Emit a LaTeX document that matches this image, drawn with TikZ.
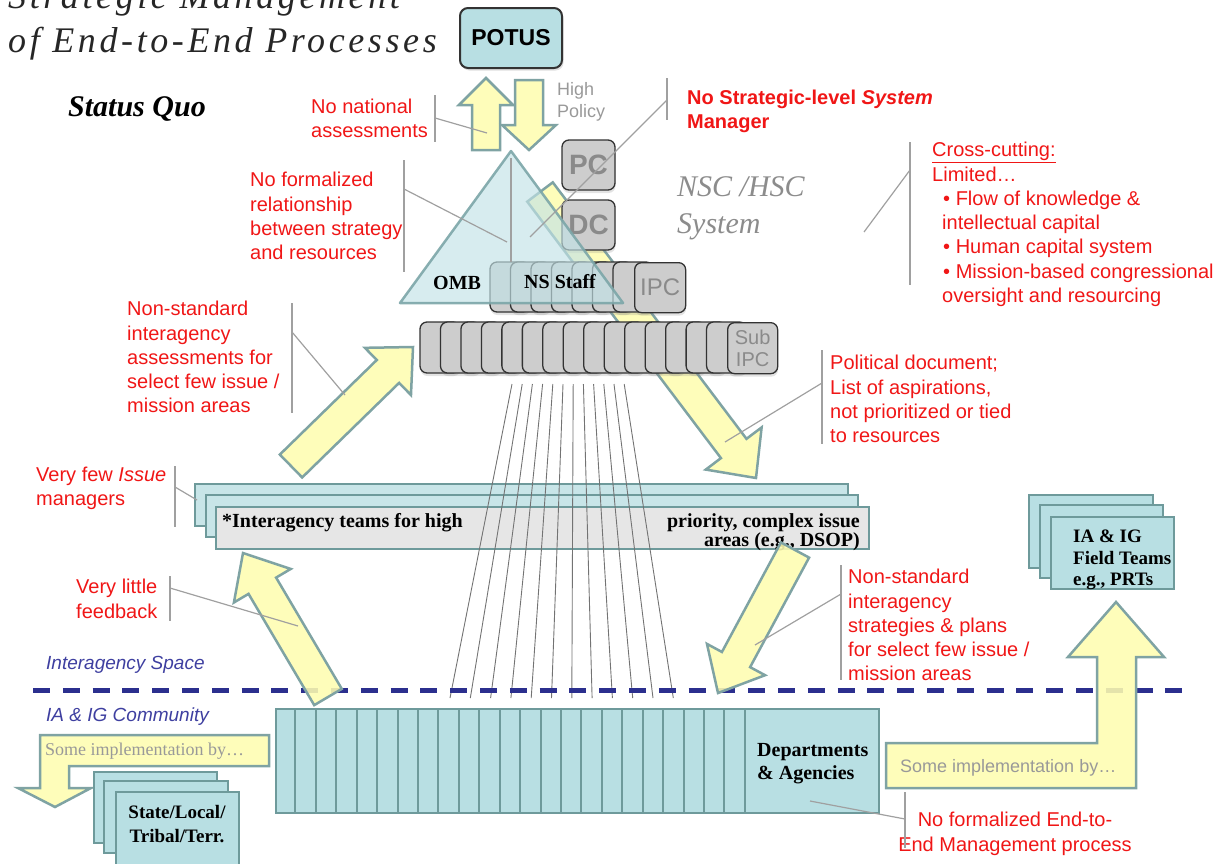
\documentclass[tikz,border=0pt]{standalone}
\usepackage{fontspec}
\setmainfont{Liberation Serif}
\setsansfont{Liberation Sans}
\newfontfamily\titlefont[LetterSpace=10]{Liberation Serif}
\usetikzlibrary{calc,shadows}
\definecolor{yel}{HTML}{FEFDB0}
\definecolor{yelb}{HTML}{7FA3A3}
\definecolor{cyanf}{HTML}{B8DFE3}
\definecolor{teamback}{HTML}{C8E5E8}
\definecolor{tealb}{HTML}{6E9A9B}
\definecolor{grayf}{HTML}{CDCDCD}
\definecolor{grayt}{HTML}{8A8A8A}
\definecolor{redt}{HTML}{F01616}
\definecolor{navy}{HTML}{2B2F8E}
\definecolor{leader}{HTML}{A0A0A0}
\definecolor{teamf}{HTML}{E6E6E6}
\definecolor{spacec}{HTML}{3E3FA0}
\definecolor{trif}{HTML}{C2E2E6}
\definecolor{trib}{HTML}{7CA6A8}
\newcommand{\yarrowpath}[5]{%
  \coordinate (hb) at ($(#2)!#5!(#1)$);
  \filldraw[yarrow] ($(#1)!#3!90:(#2)$) -- ($(hb)!#3!-90:(#1)$) -- ($(hb)!#4!-90:(#1)$) -- (#2) -- ($(hb)!#4!90:(#1)$) -- ($(hb)!#3!90:(#1)$) -- ($(#1)!#3!-90:(#2)$) -- cycle;
}
\begin{document}
\begin{tikzpicture}[x=1pt,y=-1pt,
  yarrow/.style={fill=yel, draw=yelb, line width=2.5pt, line join=miter, fill opacity=0.88},
  tab/.style={fill=grayf, draw=black!80, line width=1.3pt, rounded corners=7pt,
     drop shadow={opacity=0.22,shadow xshift=0.5pt,shadow yshift=-3pt}},
  cyanbox/.style={fill=cyanf, draw=tealb, line width=2pt},
  lead/.style={draw=leader, line width=1.2pt},
  note/.style={text=redt, font=\sffamily\fontsize{20}{24.3}\selectfont, align=left, inner sep=0pt, anchor=north west},
  titlestyle/.style={inner sep=0pt, font=\titlefont\itshape\fontsize{36}{40}\selectfont, text=black!85},
  boldserif/.style={inner sep=0pt, font=\bfseries\fontsize{20}{23}\selectfont, text=black},
  graytab/.style={text=grayt, font=\sffamily\bfseries\fontsize{28}{28}\selectfont}
]
\useasboundingbox (0,0) rectangle (1230,863);
\clip (0,0) rectangle (1230,863);

% title
\node[titlestyle, anchor=base west] (title1) at (8,8) {Strategic Management};
\node[titlestyle, anchor=base west] (title2) at (8,52) {of End-to-End Processes};
\node[anchor=base west, inner sep=0pt, font=\bfseries\itshape\fontsize{30}{30}\selectfont] (sq) at (68,116) {Status Quo};

% long diagonal arrow (behind tabs)
\coordinate (polS) at (540,192);
\coordinate (polT) at (756,478);
\yarrowpath{polS}{polT}{16pt}{35pt}{37pt}

% IPC tabs
\foreach \k in {0,...,6} \draw[tab] ({490+20.5*\k},262) rectangle ++(40,50);
\node[tab, graytab, minimum width=51pt, minimum height=50pt, anchor=north west, font=\sffamily\fontsize{24}{24}\selectfont] (ipc) at (634,262) {IPC};

% Sub IPC tabs
\foreach \k in {0,...,14} \draw[tab] ({420+20.47*\k},322) rectangle ++(40,51);
\node[tab, graytab, minimum width=50pt, minimum height=51pt, anchor=north west, align=center, inner sep=0pt, font=\sffamily\fontsize{20}{22}\selectfont] (subipc) at (727,322) {Sub\\IPC};

% PC, DC
\node[tab, graytab, minimum width=53pt, minimum height=50pt] (pc) at (588.5,165) {PC};
\node[tab, graytab, minimum width=53pt, minimum height=50pt] (dc) at (588.5,225) {DC};

% triangle
\coordinate (apex) at (511,151);
\coordinate (bl) at (400,303);
\coordinate (br) at (623,303);
\filldraw[fill=trif, fill opacity=0.65, draw=trib, draw opacity=0.9, line width=2.5pt, line join=round] (apex) -- (bl) -- (br) -- cycle;
\node[anchor=base west, inner sep=0pt, font=\bfseries\fontsize{20}{20}\selectfont] (omb) at (433,289) {OMB};
\node[anchor=base west, inner sep=0pt, font=\bfseries\fontsize{20}{20}\selectfont] (nss) at (524,288) {NS Staff};
\coordinate (vt1) at (511,158);
\coordinate (vt2) at (511,262);
\draw[lead] (vt1) -- (vt2);

% NSC / HSC
\node[anchor=north west, inner sep=0pt, align=left, text=black!45, font=\itshape\fontsize{30}{37}\selectfont] (nsc) at (677,176) {NSC /HSC\\System};

% POTUS and arrows
\node[draw=black!80, line width=2pt, fill=cyanf, rounded corners=8pt, minimum width=102pt, minimum height=60pt,
  font=\sffamily\bfseries\fontsize{23}{23}\selectfont, drop shadow={opacity=0.25,shadow xshift=1.5pt,shadow yshift=-2.5pt}] (potus) at (511,38) {POTUS};
\coordinate (upS) at (486,150);
\coordinate (upT) at (486,78);
\yarrowpath{upS}{upT}{14pt}{27pt}{27pt}
\coordinate (dnS) at (529,80);
\coordinate (dnT) at (529,150);
\yarrowpath{dnS}{dnT}{14pt}{27pt}{25pt}
\node[anchor=north west, inner sep=0pt, align=left, text=black!40, font=\sffamily\fontsize{18}{22}\selectfont] (hp) at (557,82) {High\\Policy};

% interagency teams boxes
\draw[fill=teamback, draw=tealb, line width=2pt] (195,484) rectangle (848,526);
\draw[fill=teamback, draw=tealb, line width=2pt] (206,495) rectangle (858,537);
\node[fill=teamf, draw=tealb, line width=2pt, anchor=north west, minimum width=653pt, minimum height=42pt, inner sep=0pt] (teams) at (215,506) {};
\node[boldserif, anchor=base west] (teamsL) at (222,527) {*Interagency teams for high};
\node[boldserif, anchor=north east, align=right, font=\bfseries\fontsize{20}{19}\selectfont] (teamsR) at (860,513) {priority, complex issue\\areas (e.g., DSOP)};

% fan lines
\foreach \i in {0,...,11} \draw[black!55, line width=0.9pt] ({512+10.2*\i},384) -- ({450+20.3*\i},698);

% dashed separator
\coordinate (dl) at (33,690);
\coordinate (dr) at (1195,690);
\draw[navy, line width=5pt, dash pattern=on 17pt off 12.8pt] (dl) -- (dr);
\node[anchor=base west, inner sep=0pt, text=spacec, font=\sffamily\itshape\fontsize{19}{19}\selectfont] (ias) at (46,669) {Interagency Space};
\node[anchor=base west, inner sep=0pt, text=spacec, font=\sffamily\itshape\fontsize{19}{19}\selectfont] (iac) at (46,721) {IA \& IG Community};

% other block arrows
\coordinate (asS) at (291,466);
\coordinate (asT) at (413,347);
\yarrowpath{asS}{asT}{16pt}{33pt}{35pt}
\coordinate (fbS) at (328,697);
\coordinate (fbT) at (243,553);
\yarrowpath{fbS}{fbT}{16pt}{33pt}{38pt}
\coordinate (stS) at (795,550);
\coordinate (stT) at (718,693);
\yarrowpath{stS}{stT}{16pt}{33pt}{38pt}

% departments block
\node[cyanbox, anchor=north west, minimum width=603pt, minimum height=104pt, inner sep=0pt] (dept) at (275,708) {};
\foreach \k in {1,...,23} \draw[tealb, line width=2pt] ({275+20.43*\k},708) -- ({275+20.43*\k},812);
\node[boldserif, anchor=north west, align=left] (deptt) at (757,743) {Departments\\\& Agencies};

% right bent arrow
\filldraw[yarrow] (886,743) -- (1097,743) -- (1097,657) -- (1068,657) -- (1116,602) -- (1164,657) -- (1136,657) -- (1136,788) -- (886,788) -- cycle;
\node[anchor=base west, inner sep=0pt, text=black!40, font=\sffamily\fontsize{18}{18}\selectfont] (impR) at (900,772) {Some implementation by…};

% left bent arrow
\filldraw[yarrow] (269,735) -- (269,766) -- (69,766) -- (69,788) -- (91,788) -- (55,807) -- (18,788) -- (40,788) -- (40,735) -- cycle;
\node[anchor=base west, inner sep=0pt, text=black!40, font=\fontsize{18}{18}\selectfont] (impL) at (45,755) {Some implementation by…};

% state / local stack
\draw[cyanbox] (94,772) rectangle (217,843);
\draw[cyanbox] (104,781) rectangle (228,853);
\node[cyanbox, anchor=north west, minimum width=123pt, minimum height=80pt, inner sep=0pt] (slt) at (115,791) {};
\node[boldserif, anchor=north, align=center, font=\bfseries\fontsize{19}{24}\selectfont] (sltt) at (177,805) {State/Local/\\Tribal/Terr.};

% field teams stack
\draw[cyanbox] (1029,495) rectangle (1153,568);
\draw[cyanbox] (1040,505) rectangle (1163,578);
\node[cyanbox, anchor=north west, minimum width=123pt, minimum height=72pt, inner sep=0pt] (ft) at (1050,516) {};
\node[boldserif, anchor=north west, align=left, font=\bfseries\fontsize{19}{21.5}\selectfont] (ftt) at (1073,530) {IA \& IG\\Field Teams\\e.g., PRTs};

% red notes
\node[note] (natl) at (311,99) {No national\\assessments};
\node[note, font=\sffamily\bfseries\fontsize{20}{24.3}\selectfont] (sysmgr) at (687,90) {No Strategic-level \textit{System}\\Manager};
\node[note] (formrel) at (250,172) {No formalized\\relationship\\between strategy\\and resources};
\node[note] (assess) at (127,301) {Non-standard\\interagency\\assessments for\\select few issue /\\mission areas};
\node[note] (issue) at (36,467) {Very few \textit{Issue}\\managers};
\node[note] (feedback) at (76,579) {Very little\\feedback};
\node[note] (political) at (830,355) {Political document;\\List of aspirations,\\not prioritized or tied\\to resources};
\node[note] (strat) at (848,569) {Non-standard\\interagency\\strategies \& plans\\for select few issue /\\mission areas};
\node[note, anchor=north, align=center] (e2e) at (1015,812) {No formalized End-to-\\End Management process};
\node[note] (cross) at (932,142) {\underline{Cross-cutting:}\\Limited…\\\hspace*{11pt}• Flow of knowledge \&\\\hspace*{10pt}intellectual capital\\\hspace*{11pt}• Human capital system\\\hspace*{11pt}• Mission-based congressional\\\hspace*{10pt}oversight and resourcing};

% leader lines
\draw[lead] (435,95) -- (435,142);   \draw[lead] (435,118) -- (487,133);
\draw[lead] (667,78) -- (667,120);   \draw[lead] (667,100) -- (530,237);
\draw[lead] (404,160) -- (404,272);  \draw[lead] (404,189) -- (507,242);
\draw[lead] (292,303) -- (292,413);  \draw[lead] (292,332) -- (345,395);
\draw[lead] (175,466) -- (175,527);  \draw[lead] (175,487) -- (197,500);
\draw[lead] (170,576) -- (170,621);  \draw[lead] (170,588) -- (298,626);
\draw[lead] (822,350) -- (822,444);  \draw[lead] (822,383) -- (725,442);
\draw[lead] (841,565) -- (841,680);  \draw[lead] (841,594) -- (755,645);
\draw[lead] (910,142) -- (910,285);  \draw[lead] (910,170) -- (864,232);
\draw[lead] (905,792) -- (905,848);  \draw[lead] (905,819) -- (810,801);
\end{tikzpicture}
\end{document}
